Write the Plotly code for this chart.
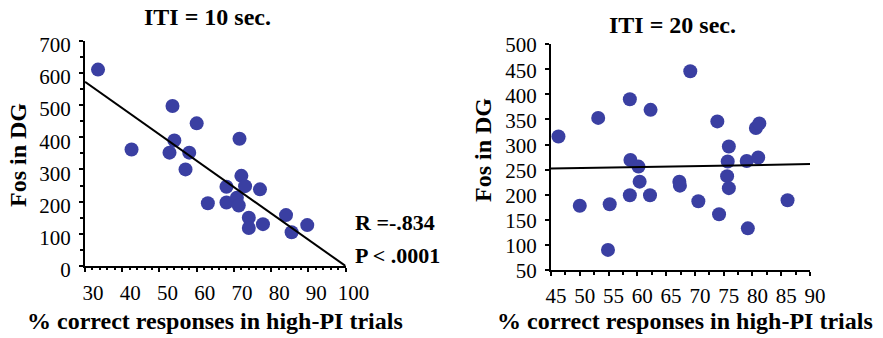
import plotly.graph_objects as go

# ITI = 10 sec. panel
x10 = [33.5, 42.5, 53.5, 60, 54, 52.7, 58, 57, 71.5, 72, 73, 68, 77, 63, 68, 70.8, 71.3, 74, 74, 77.8, 84, 85.5, 89.7]
y10 = [610, 362, 497, 443, 390, 352, 352, 300, 395, 280, 248, 246, 238, 195, 197, 212, 188, 150, 118, 130, 158, 105, 127]
fit10_x = [30, 100]
fit10_y = [572, 0]

# ITI = 20 sec. panel
x20 = [46.3, 50, 53.2, 55.2, 54.9, 58.7, 58.8, 60.2, 60.4, 58.7, 62.3, 62.2, 67.3, 67.4, 69.2, 70.6,
       73.9, 74.2, 75.9, 75.7, 75.6, 75.9, 79, 79.2, 80.6, 81.2, 81, 86.1]
y20 = [316, 178, 353, 181, 90, 390, 269, 256, 226, 199, 369, 199, 226, 218, 446, 187,
       346, 161, 296, 266, 237, 213, 267, 133, 333, 342, 274, 189]
fit20_x = [45, 90]
fit20_y = [252, 261]

ticks10_y = [0, 100, 200, 300, 400, 500, 600, 700]
ticks10_x = [30, 40, 50, 60, 70, 80, 90, 100]
ticks20_y = [50, 100, 150, 200, 250, 300, 350, 400, 450, 500]
ticks20_x = [45, 50, 55, 60, 65, 70, 75, 80, 85, 90]

W, H = 883, 338
MC = "#3a3fa2"
SERIF = "Liberation Serif, Times New Roman, serif"

fig = go.Figure()
fig.add_trace(go.Scatter(x=x10, y=y10, mode="markers", xaxis="x", yaxis="y",
                         marker=dict(size=14, color=MC), showlegend=False))
fig.add_trace(go.Scatter(x=fit10_x, y=fit10_y, mode="lines", xaxis="x", yaxis="y",
                         line=dict(color="black", width=2), showlegend=False))
fig.add_trace(go.Scatter(x=x20, y=y20, mode="markers", xaxis="x2", yaxis="y2",
                         marker=dict(size=14, color=MC), showlegend=False))
fig.add_trace(go.Scatter(x=fit20_x, y=fit20_y, mode="lines", xaxis="x2", yaxis="y2",
                         line=dict(color="black", width=2), showlegend=False))

def px_x(p):
    return p / W

def px_y(p):
    return (H - p) / H

common = dict(showline=True, linecolor="black", linewidth=2, showgrid=False, zeroline=False,
              automargin=False,
              ticks="outside", tickcolor="black", ticklen=4, tickwidth=1.5,
              tickfont=dict(family=SERIF, size=21, color="black"))

fig.update_layout(
    width=W, height=H, autosize=False,
    margin=dict(l=0, r=0, t=0, b=0, pad=0, autoexpand=False),
    paper_bgcolor="white", plot_bgcolor="white",
    xaxis=dict(domain=[px_x(85), px_x(345.6)], range=[30, 100], anchor="y",
               tickvals=ticks10_x, ticklabelshift=8, ticklabelstandoff=3,
               minor=dict(dtick=2, ticks="outside", ticklen=2, tickcolor="black", tickwidth=1.5),
               **common),
    yaxis=dict(domain=[px_y(266), px_y(40.6)], range=[0, 700], anchor="x",
               tickvals=ticks10_y, ticklabelshift=4, ticklabelstandoff=4,
               minor=dict(dtick=50, ticks="outside", ticklen=3, tickcolor="black", tickwidth=1.5),
               **common),
    xaxis2=dict(domain=[px_x(551), px_x(810)], range=[45, 90], anchor="y2",
                tickvals=ticks20_x, ticklabelshift=5, ticklabelstandoff=2,
                minor=dict(dtick=2.5, ticks="outside", ticklen=3, tickcolor="black", tickwidth=1.5),
                **common),
    yaxis2=dict(domain=[px_y(270), px_y(44.1)], range=[50, 500], anchor="x2",
                tickvals=ticks20_y, ticklabelshift=1, ticklabelstandoff=4,
                **common),
)

bold = dict(family=SERIF, size=24, color="black")
ann = [
    dict(text="<b>ITI = 10 sec.</b>", x=px_x(207), y=px_y(17), font=bold),
    dict(text="<b>ITI = 20 sec.</b>", x=px_x(672), y=px_y(25), font=bold),
    dict(text="<b>% correct responses in high-PI trials</b>", x=px_x(215), y=px_y(321), font=bold),
    dict(text="<b>% correct responses in high-PI trials</b>", x=px_x(685), y=px_y(321), font=bold),
    dict(text="<b>Fos in DG</b>", x=px_x(18), y=px_y(155), font=bold, textangle=-90),
    dict(text="<b>Fos in DG</b>", x=px_x(483), y=px_y(150), font=bold, textangle=-90),
    dict(text="<b>R =-.834</b>", x=px_x(353), y=px_y(223), font=dict(family=SERIF, size=22, color="black"),
         xanchor="left"),
    dict(text="<b>P < .0001</b>", x=px_x(353), y=px_y(255), font=dict(family=SERIF, size=22, color="black"),
         xanchor="left"),
]
for a in ann:
    a.setdefault("xanchor", "center")
    fig.add_annotation(xref="paper", yref="paper", yanchor="middle", showarrow=False, **a)

fig.write_html("out.html")
